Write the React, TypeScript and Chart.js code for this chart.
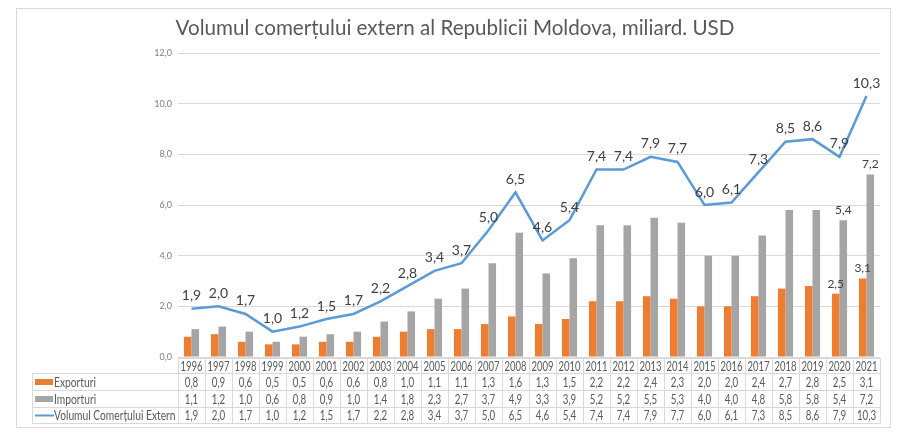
import { useEffect, useRef } from 'react';
import { Chart, registerables } from 'chart.js';

Chart.register(...registerables);

const years = ['1996','1997','1998','1999','2000','2001','2002','2003','2004','2005','2006','2007','2008','2009','2010','2011','2012','2013','2014','2015','2016','2017','2018','2019','2020','2021'];
const exporturi = [0.8,0.9,0.6,0.5,0.5,0.6,0.6,0.8,1.0,1.1,1.1,1.3,1.6,1.3,1.5,2.2,2.2,2.4,2.3,2.0,2.0,2.4,2.7,2.8,2.5,3.1];
const importuri = [1.1,1.2,1.0,0.6,0.8,0.9,1.0,1.4,1.8,2.3,2.7,3.7,4.9,3.3,3.9,5.2,5.2,5.5,5.3,4.0,4.0,4.8,5.8,5.8,5.4,7.2];
const volumul = [1.9,2.0,1.7,1.0,1.2,1.5,1.7,2.2,2.8,3.4,3.7,5.0,6.5,4.6,5.4,7.4,7.4,7.9,7.7,6.0,6.1,7.3,8.5,8.6,7.9,10.3];
const seriesNames = ['Exporturi', 'Importuri', 'Volumul Comerțului Extern'];
const barLabelYears = ['2020', '2021'];
const yMin = 0;
const yMax = 12;
const yStep = 2;
const titleText = 'Volumul comerțului extern al Republicii Moldova, miliard. USD';

const ORANGE = '#ed7d31';
const GRAY = '#a5a5a5';
const BLUE = '#5b9bd5';
const FONT = 'Lato, "Open Sans", sans-serif';

const fmt = (v: number) => v.toFixed(1).replace('.', ',');

function narrowText(ctx: CanvasRenderingContext2D, text: string, x: number, y: number, k: number) {
  const w = ctx.measureText(text).width;
  ctx.fillText(text, x, y, w * k);
}

const framePlugin = {
  id: 'frame',
  beforeDraw(chart: any) {
    const ctx = chart.ctx;
    ctx.save();
    ctx.fillStyle = '#ffffff';
    ctx.fillRect(0, 0, chart.width, chart.height);
    ctx.strokeStyle = '#d9d9d9';
    ctx.lineWidth = 1;
    ctx.strokeRect(16.5, 8.5, 874, 419);
    ctx.fillStyle = '#595959';
    ctx.font = `20.6px ${FONT}`;
    ctx.textAlign = 'center';
    ctx.textBaseline = 'middle';
    ctx.fillText(titleText, 455, 28);
    ctx.restore();
  },
};

const labelsPlugin = {
  id: 'labels',
  afterDatasetsDraw(chart: any) {
    const ctx = chart.ctx;
    ctx.save();
    ctx.textAlign = 'center';
    ctx.textBaseline = 'middle';
    ctx.fillStyle = '#404040';
    ctx.font = `14px ${FONT}`;
    const lineMeta = chart.getDatasetMeta(2);
    lineMeta.data.forEach((el: any, i: number) => {
      ctx.fillText(fmt(volumul[i]), el.x, el.y - 13);
    });
    ctx.font = `12px ${FONT}`;
    [0, 1].forEach((di) => {
      const meta = chart.getDatasetMeta(di);
      const vals = di === 0 ? exporturi : importuri;
      meta.data.forEach((el: any, i: number) => {
        if (barLabelYears.includes(years[i])) {
          ctx.fillText(fmt(vals[i]), el.x, el.y - 10);
        }
      });
    });
    ctx.restore();
  },
};

const tablePlugin = {
  id: 'table',
  afterDraw(chart: any) {
    const ctx = chart.ctx;
    const xs = chart.scales.x;
    const n = years.length;
    const colW = (xs.right - xs.left) / n;
    const left = xs.left;
    const right = xs.right;
    const rowY = [358, 373, 390, 407, 423];
    const legendLeft = 32;
    ctx.save();
    ctx.strokeStyle = '#d9d9d9';
    ctx.lineWidth = 1;
    ctx.beginPath();
    ctx.moveTo(left, rowY[0] + 0.5);
    ctx.lineTo(right, rowY[0] + 0.5);
    for (let r = 1; r < rowY.length; r++) {
      ctx.moveTo(legendLeft, rowY[r] + 0.5);
      ctx.lineTo(right, rowY[r] + 0.5);
    }
    for (let i = 0; i <= n; i++) {
      const xx = Math.round(left + i * colW) + 0.5;
      ctx.moveTo(xx, rowY[0]);
      ctx.lineTo(xx, rowY[4] + 0.5);
    }
    ctx.moveTo(legendLeft + 0.5, rowY[1]);
    ctx.lineTo(legendLeft + 0.5, rowY[4] + 0.5);
    ctx.stroke();

    ctx.fillStyle = '#595959';
    ctx.font = `12.5px ${FONT}`;
    ctx.textAlign = 'center';
    ctx.textBaseline = 'middle';
    const rowsData = [exporturi, importuri, volumul];
    for (let i = 0; i < n; i++) {
      const cx = xs.getPixelForValue(i);
      narrowText(ctx, years[i], cx, (rowY[0] + rowY[1]) / 2 + 1, 0.76);
      rowsData.forEach((arr, r) => {
        narrowText(ctx, fmt(arr[i]), cx, (rowY[r + 1] + rowY[r + 2]) / 2 + 1, 0.78);
      });
    }
    ctx.textAlign = 'left';
    const swatchX = 35;
    const colors = [ORANGE, GRAY];
    for (let r = 0; r < 3; r++) {
      const cy = (rowY[r + 1] + rowY[r + 2]) / 2 + 0.5;
      if (r < 2) {
        ctx.fillStyle = colors[r];
        ctx.fillRect(swatchX, cy - 3, 18, 6);
      } else {
        ctx.strokeStyle = BLUE;
        ctx.lineWidth = 2;
        ctx.beginPath();
        ctx.moveTo(swatchX, cy);
        ctx.lineTo(swatchX + 19, cy);
        ctx.stroke();
      }
      ctx.fillStyle = '#595959';
      narrowText(ctx, seriesNames[r], swatchX + 19, cy + 0.5, 0.82);
    }
    ctx.restore();
  },
};

export default function App() {
  const ref = useRef<HTMLCanvasElement | null>(null);
  useEffect(() => {
    if (!ref.current) return;
    const chart = new Chart(ref.current, {
      type: 'bar',
      data: {
        labels: years,
        datasets: [
          { type: 'bar', label: seriesNames[0], data: exporturi, backgroundColor: ORANGE, categoryPercentage: 0.56, barPercentage: 1.0, order: 1 },
          { type: 'bar', label: seriesNames[1], data: importuri, backgroundColor: GRAY, categoryPercentage: 0.56, barPercentage: 1.0, order: 1 },
          { type: 'line', label: seriesNames[2], data: volumul, borderColor: BLUE, borderWidth: 2.5, pointRadius: 0, tension: 0, fill: false, order: 0 } as any,
        ],
      },
      options: {
        responsive: false,
        animation: false,
        layout: { padding: { left: 130, right: 23, top: 53, bottom: 79 } },
        plugins: {
          legend: { display: false },
          title: { display: false },
          tooltip: { enabled: false },
        },
        scales: {
          x: { display: false, offset: true },
          y: {
            min: yMin,
            max: yMax,
            ticks: {
              stepSize: yStep,
              padding: 6,
              color: '#7f7f7f',
              font: { family: FONT, size: 9 },
              callback: (v: any) => fmt(Number(v)),
            },
            grid: { color: '#d9d9d9', drawTicks: false, lineWidth: 1 },
            border: { display: false },
            afterFit: (scale: any) => { scale.width = 48; },
          },
        },
      },
      plugins: [framePlugin, labelsPlugin, tablePlugin],
    });
    return () => chart.destroy();
  }, []);
  return (
    <div style={{ position: 'fixed', left: 0, top: 0, width: 903, height: 436 }}>
      <canvas ref={ref} width={903} height={436} />
    </div>
  );
}
